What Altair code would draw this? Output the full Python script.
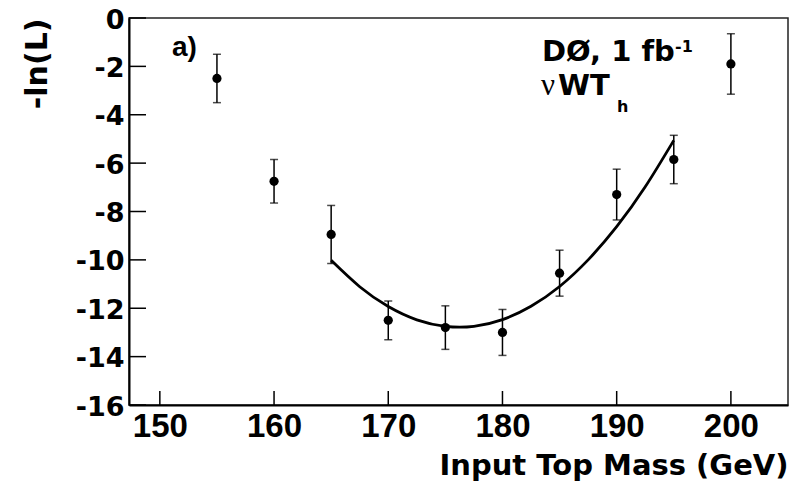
import altair as alt
import pandas as pd

# ---- data ----
mass = [155, 160, 165, 170, 175, 180, 185, 190, 195, 200]
neg_log_l = [-2.5, -6.75, -8.95, -12.5, -12.8, -13.0, -10.55, -7.3, -5.85, -1.9]
err = [1.0, 0.9, 1.2, 0.8, 0.9, 0.95, 0.95, 1.05, 1.0, 1.25]

fit_mass = [165, 167.5, 170, 172.5, 175, 177.5, 180, 182.5, 185, 187.5, 190, 192.5, 195]
fit_nll = [-10.02, -11.11, -11.93, -12.48, -12.75, -12.75, -12.47, -11.92,
           -11.10, -10.00, -8.63, -6.98, -5.06]

x_ticks = [150, 160, 170, 180, 190, 200]
y_ticks = [0, -2, -4, -6, -8, -10, -12, -14, -16]

X_DOMAIN = [147.3, 205]
Y_DOMAIN = [-16, 0]
W, H = 659, 387
FONT = "Liberation Sans"
WIDE = "DejaVu Sans"

pts = pd.DataFrame({"m": mass, "v": neg_log_l, "e": err})
pts["lo"] = pts["v"] - pts["e"]
pts["hi"] = pts["v"] + pts["e"]
fit = pd.DataFrame({"m": fit_mass, "v": fit_nll})

xs = alt.Scale(domain=X_DOMAIN, nice=False, zero=False)
ys = alt.Scale(domain=Y_DOMAIN, nice=False, zero=False)

x_axis = alt.Axis(
    values=x_ticks, title="Input Top Mass (GeV)", grid=False, ticks=False, tickSize=0,
    labelFontSize=33, labelPadding=5, labelFont=FONT, labelFontWeight="bold",
    labelColor="black", domainColor="black", domainWidth=2,
    titleFont=WIDE, titleFontSize=29, titleFontWeight="bold", titleColor="black",
    titleX=W, titleY=69, titleAlign="right", titleBaseline="alphabetic",
    labelFlush=False, labelOverlap=False,
)
y_axis = alt.Axis(
    values=y_ticks, title="-ln(L)", grid=False, ticks=False, tickSize=0,
    labelFontSize=27, labelPadding=5, labelFont=WIDE, labelFontWeight="bold",
    labelColor="black", domainColor="black", domainWidth=2,
    labelExpr="datum.value < 0 ? '-' + abs(datum.value) : '' + datum.value",
    labelBaseline="middle", labelFlush=False, labelOverlap=False, labelOffset=2,
    titleFont=WIDE, titleFontSize=30, titleFontWeight="bold", titleColor="black",
    titleAngle=270, titleX=-83, titleY=0, titleAlign="right", titleBaseline="alphabetic",
)

base = alt.Chart(pts)

bars = base.mark_rule(color="black", strokeWidth=1.5).encode(
    x=alt.X("m:Q", scale=xs, axis=x_axis),
    y=alt.Y("lo:Q", scale=ys, axis=y_axis),
    y2="hi:Q",
)
cap_lo = base.mark_tick(color="black", orient="horizontal", size=8, thickness=1.5).encode(
    x=alt.X("m:Q", scale=xs), y=alt.Y("lo:Q", scale=ys))
cap_hi = base.mark_tick(color="black", orient="horizontal", size=8, thickness=1.5).encode(
    x=alt.X("m:Q", scale=xs), y=alt.Y("hi:Q", scale=ys))
dots = base.mark_point(filled=True, color="black", size=85, opacity=1, shape="circle").encode(
    x=alt.X("m:Q", scale=xs), y=alt.Y("v:Q", scale=ys))

curve = alt.Chart(fit).mark_line(color="black", strokeWidth=2.8, interpolate="natural").encode(
    x=alt.X("m:Q", scale=xs), y=alt.Y("v:Q", scale=ys))

# inward ticks
yt = alt.Chart(pd.DataFrame({"t": y_ticks})).mark_rule(color="black", strokeWidth=1.5).encode(
    y=alt.Y("t:Q", scale=ys), x=alt.value(0), x2=alt.value(17))
xt = alt.Chart(pd.DataFrame({"t": x_ticks})).mark_rule(color="black", strokeWidth=1.5).encode(
    x=alt.X("t:Q", scale=xs), y=alt.value(H - 14), y2=alt.value(H))

one = alt.Data(values=[{"a": 1}])


def label(txt, x, y, size, weight="bold", font=FONT, align="left", baseline="alphabetic"):
    return alt.Chart(one).mark_text(
        text=txt, font=font, fontSize=size, fontWeight=weight, color="black",
        align=align, baseline=baseline,
    ).encode(x=alt.value(x), y=alt.value(y))


ann = [
    label("a)", 43, 38, 28),
    label("DØ, 1 fb", 413, 43, 29, font=WIDE),
    label("-1", 546, 34, 16, font=WIDE),
    label("ν", 412, 77, 31, weight="normal", font="Liberation Serif"),
    label("WT", 429, 77, 29, font=WIDE),
    label("h", 488, 94, 16, font=WIDE),
]

chart = alt.layer(yt, xt, curve, bars, cap_lo, cap_hi, dots, *ann).properties(
    width=W, height=H,
    padding={"left": 121, "top": 10, "right": 13, "bottom": 76},
    autosize=alt.AutoSizeParams(type="none"),
    background="white",
).configure_view(stroke="#222", strokeWidth=1.5)

chart.save("out.html", embed_options={"renderer": "svg", "actions": False})
